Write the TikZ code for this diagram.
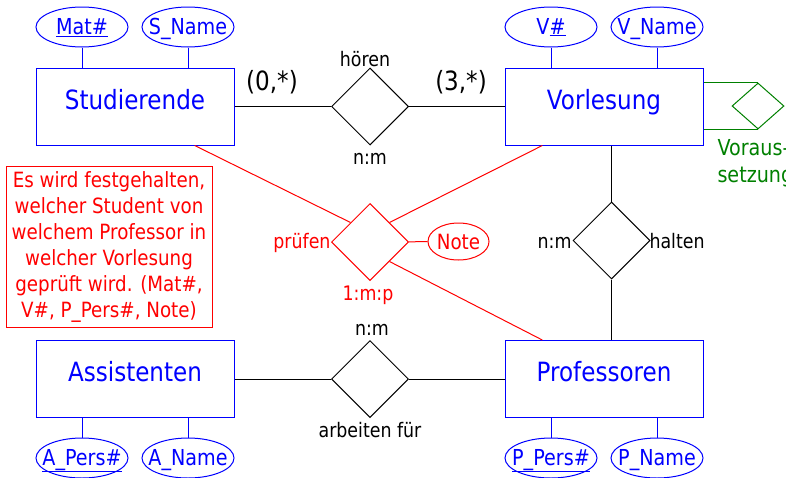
\documentclass[tikz,border=0pt]{standalone}
\usepackage{fontspec}
\setmainfont{DejaVu Sans}[FakeStretch=0.87]
\usetikzlibrary{shapes.geometric,calc}
\definecolor{erblue}{RGB}{0,0,255}
\definecolor{erred}{RGB}{255,0,0}
\definecolor{ergreen}{RGB}{0,128,0}
% attribute text takes no width, so the ellipse keeps its own size
\newcommand{\nb}[1]{\makebox[0pt]{#1}}
\begin{document}
\begin{tikzpicture}[x=1pt,y=-1pt,line width=1pt,
  entity/.style={draw=erblue,text=erblue,minimum width=198pt,minimum height=77pt,
    inner sep=0pt,font=\fontsize{26.5}{30}\selectfont,text height=19pt,text depth=14pt},
  attr/.style={ellipse,draw=erblue,text=erblue,minimum width=92pt,minimum height=40pt,
    inner sep=0pt,font=\fontsize{22}{26}\selectfont,text height=16pt,text depth=2pt},
  rel/.style={diamond,draw=black,minimum width=77pt,minimum height=77pt,inner sep=0pt},
  lbl/.style={anchor=base,inner sep=0pt,font=\fontsize{20}{24}\selectfont},
  card/.style={anchor=base,inner sep=0pt,font=\fontsize{26.5}{30}\selectfont},
  link/.style={draw=black},
  alink/.style={draw=erblue},
  rlink/.style={draw=erred},
  glink/.style={draw=ergreen},
  memo/.style={draw=erred,text=erred,minimum width=206pt,minimum height=161pt,inner sep=0pt,
    align=center,font=\fontsize{21}{26}\selectfont}]
\useasboundingbox (0,0) rectangle (786,477);

% entities
\node[entity] (stud) at (135,106.5) {Studierende};
\node[entity] (vorl) at (604,106.5) {Vorlesung};
\node[entity] (assi) at (135,379) {Assistenten};
\node[entity] (prof) at (604,379) {Professoren};

% attributes
\node[attr] (mat)   at (82,27)  {\nb{\underline{Mat\#}}};
\node[attr] (sname) at (188,27) {\nb{S\_Name}};
\node[attr] (vnum)  at (551,27) {\nb{V\underline{\#}}};
\node[attr] (vname) at (657,27) {\nb{V\_Name}};
\node[attr] (apers) at (82,458) {\nb{\underline{A\_Pers\#}}};
\node[attr] (aname) at (188,458) {\nb{A\_Name}};
\node[attr] (ppers) at (551,458) {\nb{\underline{P\_Pers\#}}};
\node[attr] (pname) at (657,458) {\nb{P\_Name}};

% relationships
\node[rel] (hoer) at (370,106.5) {};
\node[rel] (halt) at (611.5,240.5) {};
\node[rel] (arb)  at (370,379) {};
\node[rel,draw=erred] (pr) at (370,242) {};
\node[diamond,draw=ergreen,minimum width=52pt,minimum height=46pt,inner sep=0pt] (vor) at (758,106) {};
\node[ellipse,draw=erred,text=erred,minimum width=61pt,minimum height=37pt,inner sep=0pt,
  font=\fontsize{21}{25}\selectfont,text height=15pt,text depth=0pt] (note) at (458.5,241.5) {\nb{Note}};

% attribute links
\foreach \a/\e in {mat/stud,sname/stud,vnum/vorl,vname/vorl}
  \draw[alink] (\a.south) -- (\a.south |- \e.north);
\foreach \a/\e in {apers/assi,aname/assi,ppers/prof,pname/prof}
  \draw[alink] (\a.north) -- (\a.north |- \e.south);

% relationship links
\draw[link] (stud) -- (hoer) -- (vorl);
\draw[link] (assi) -- (arb) -- (prof);
\draw[link] (halt |- vorl.south) -- (halt) -- (halt |- prof.north);
\draw[glink] (vorl.east |- vor.north) -- (vor.north);
\draw[glink] (vorl.east |- vor.south) -- (vor.south);
\draw[rlink] ($(stud.south west)!0.8!(stud.south east)$) -- (pr.north west);
\draw[rlink] ($(vorl.south west)!0.19!(vorl.south east)$) -- (pr.north east);
\draw[rlink] ($(prof.north west)!0.19!(prof.north east)$) -- (pr.south east);
\draw[rlink] (pr) -- (note);

% labels
\node[lbl] (lhoer) at (365,66) {hören};
\node[lbl] (nm1) at (370,164) {n:m};
\node[card] (c0) at (272,90) {(0,*)};
\node[card] (c3) at (461,90) {(3,*)};
\node[lbl,anchor=base east] (nm2) at (572,248) {n:m};
\node[lbl,anchor=base west] (lhalt) at (649,248) {halten};
\node[lbl,anchor=base east,text=erred] (lpr) at (331,248) {prüfen};
\node[lbl,text=erred] (lmp) at (368,300) {1:m:p};
\node[lbl] (nm3) at (372,335) {n:m};
\node[lbl] (larb) at (370,437) {arbeiten für};
\node[lbl,anchor=base west,text=ergreen,font=\fontsize{22}{26}\selectfont] (lvor1) at (717,155) {Voraus-};
\node[lbl,anchor=base west,text=ergreen,font=\fontsize{22}{26}\selectfont] (lvor2) at (717,182) {setzung};

% explanatory note
\node[memo] (memo) at (109,246.5) {Es wird festgehalten,\\welcher Student von\\welchem Professor in\\welcher Vorlesung\\geprüft wird. (Mat\#,\\V\#, P\_Pers\#, Note)};
\end{tikzpicture}
\end{document}
